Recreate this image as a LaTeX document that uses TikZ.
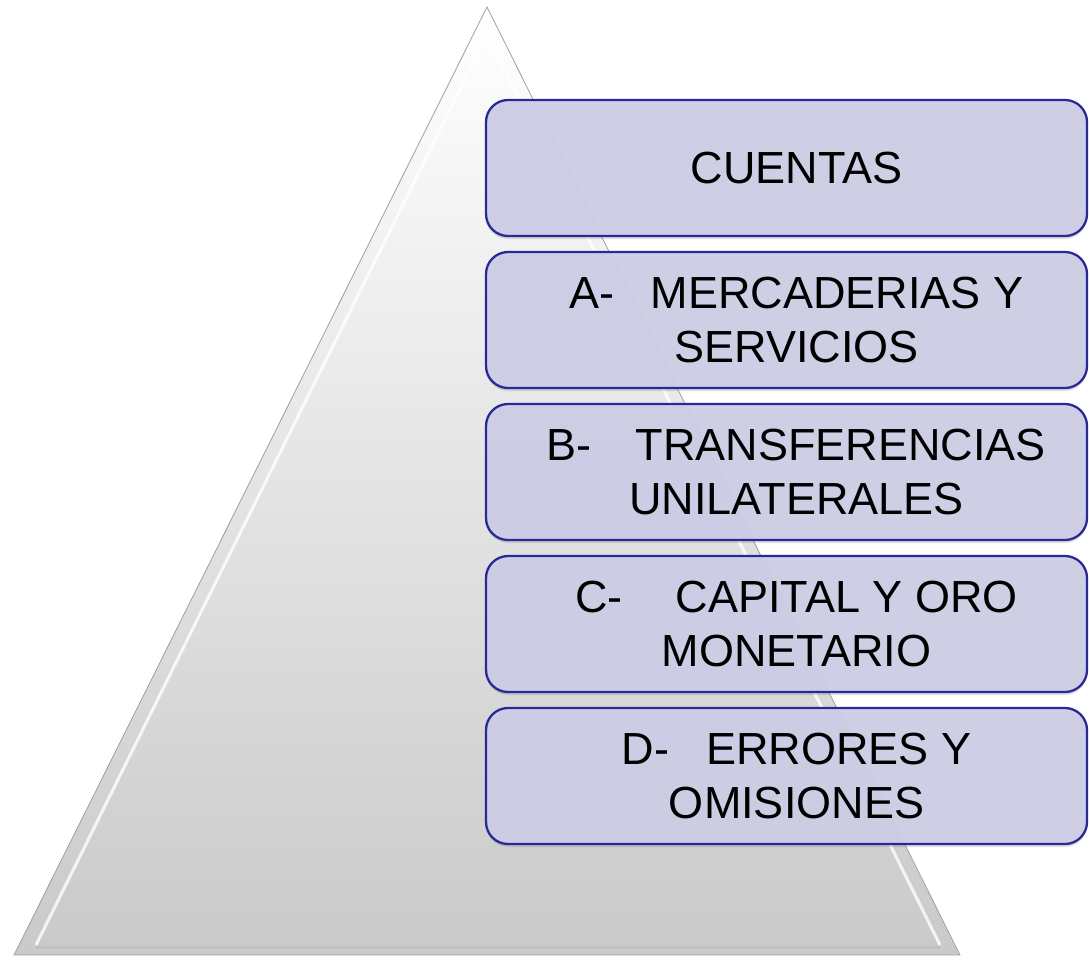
\documentclass[tikz,border=0pt]{standalone}
\usepackage{fontspec}
\setmainfont{Liberation Sans}
\usetikzlibrary{calc, shadows}

\definecolor{boxfill}{RGB}{205,205,230}
\definecolor{boxline}{RGB}{42,42,150}

\begin{document}
\begin{tikzpicture}[x=1pt, y=-1pt,
	cuentabox/.style={draw=boxline, line width=2.3pt, fill=boxfill, fill opacity=0.95,
		rounded corners=22pt, minimum width=601pt, minimum height=136pt, inner sep=0pt,
		drop shadow={opacity=0.25, shadow xshift=0pt, shadow yshift=-3pt}},
	cuentatext/.style={align=center, font=\fontsize{45}{54}\selectfont, text=black}]
		\useasboundingbox (0,0) rectangle (1089,959);
		\def\boxtop{100}
		\def\boxh{136}
		\def\boxstep{152}
		\def\boxmid{786.5}
		
		% pyramid
		\coordinate (apex) at (487,7);
		\coordinate (bl) at (14,955);
		\coordinate (br) at (960,955);
		\shade[top color=white, bottom color=gray!42] (apex) -- (br) -- (bl) -- cycle;
		\draw[white, line width=3pt, opacity=0.8]
		($(bl)+(22,-10)$) -- ($(apex)+(0,28)$) -- ($(br)+(-20,-10)$);
		\draw[gray!55, line width=3pt, opacity=0.5]
		($(bl)+(22,-8)$) -- ($(br)+(-20,-8)$);
		\draw[gray!75, line width=0.8pt] (apex) -- (br) -- (bl) -- cycle;
		
		% boxes and labels
		\foreach \lbl [count=\i] in {
			{CUENTAS},
			{A-\hspace{36pt}MERCADERIAS Y\\SERVICIOS},
			{B-\hspace{44pt}TRANSFERENCIAS\\UNILATERALES},
			{C-\hspace{53pt}CAPITAL Y ORO\\MONETARIO},
			{D-\hspace{37pt}ERRORES Y\\OMISIONES}} {
			\node (box\i) [cuentabox] at (\boxmid, {\boxtop+0.5*\boxh+(\i-1)*\boxstep}) {};
			\node (lbl\i) [cuentatext] at ([xshift=10pt]box\i.center) {\lbl};
		}
\end{tikzpicture}
\end{document}
